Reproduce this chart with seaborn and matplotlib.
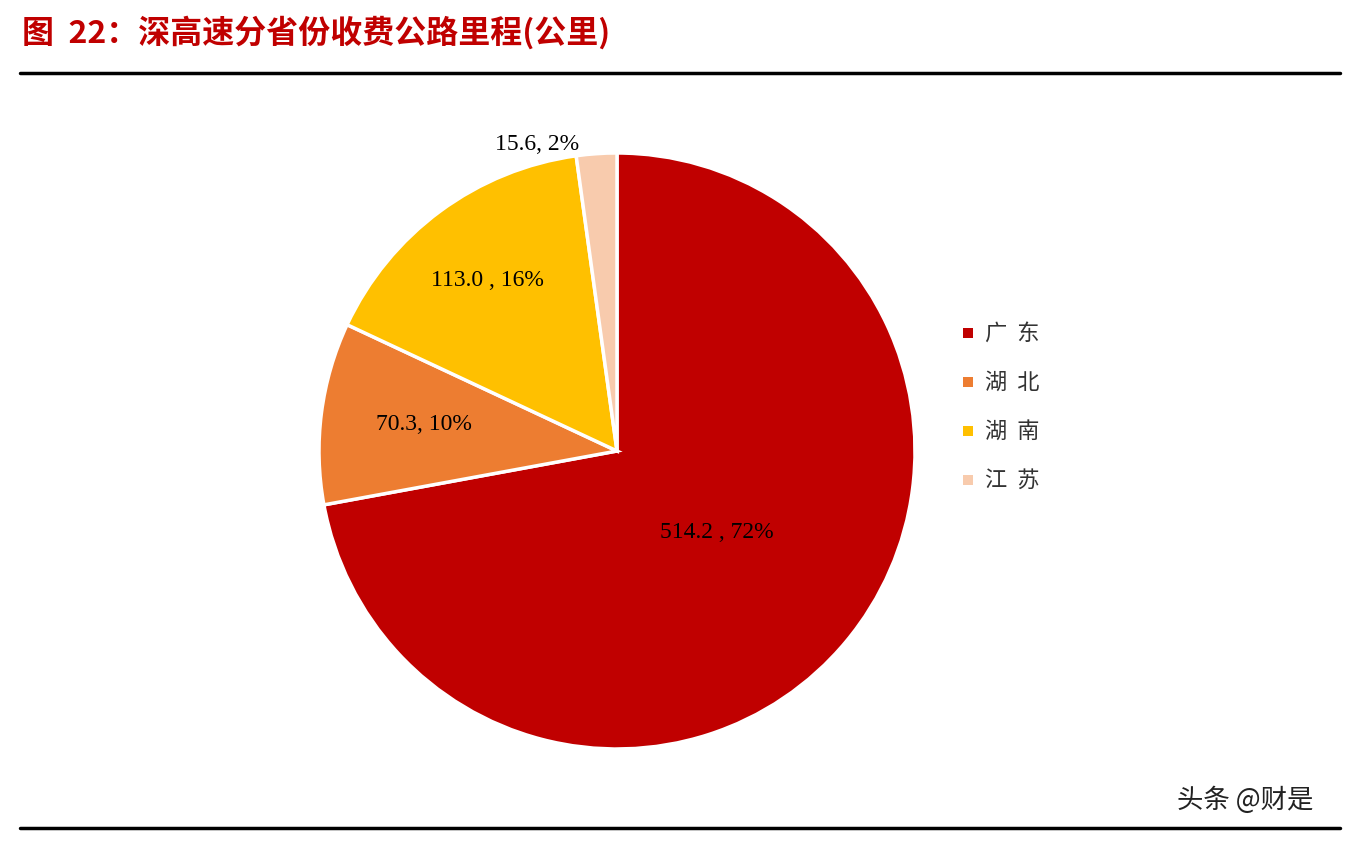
import matplotlib
matplotlib.use("Agg")
import matplotlib.pyplot as plt
import seaborn as sns
from matplotlib.lines import Line2D
from matplotlib.patches import Rectangle

sns.set_theme(style="white")
plt.rcParams['font.family'] = ['Noto Sans CJK SC', 'DejaVu Sans']

provinces = ["广东", "湖北", "湖南", "江苏"]
values = [514.2, 70.3, 113.0, 15.6]
labels = ["514.2 , 72%", "70.3, 10%", "113.0 , 16%", "15.6, 2%"]
colors = ["#C00000", "#ED7D31", "#FFC000", "#F8CBAD"]
label_pos = [(717, 533), (424, 425), (487, 280), (537, 145)]

W, H = 1356, 842
fig = plt.figure(figsize=(W/100, H/100), dpi=100)
fig.patch.set_facecolor("white")

r = 298
cx, cy = 617, 451
ax = fig.add_axes([(cx - r)/W, 1 - (cy + r)/H, 2*r/W, 2*r/H])
ax.pie(values, colors=colors, startangle=90, counterclock=False,
       wedgeprops=dict(edgecolor="white", linewidth=2.5))
ax.set_aspect("auto")
ax.set_xlim(-1, 1); ax.set_ylim(-1, 1)
ax.axis("off")

for (x, y), t in zip(label_pos, labels):
    fig.text(x/W, 1 - y/H, t, ha="center", va="center", fontsize=17,
             family=["Liberation Serif"], color="black")

# legend
for i, (p, c) in enumerate(zip(provinces, colors)):
    y = 333 + i*49
    fig.patches.append(Rectangle(((963)/W, 1 - (y + 5)/H), 10/W, 10/H,
                                 transform=fig.transFigure, facecolor=c, edgecolor="none"))
    fig.text(985/W, 1 - y/H, "  ".join(p), ha="left", va="center", fontsize=16, color="#333333")

fig.text(22/W, 1 - 33/H, "图  22：深高速分省份收费公路里程(公里)", ha="left", va="center",
         fontsize=23, fontweight="bold", color="#C00000")
fig.add_artist(Line2D([20/W, 1340/W], [1 - 73/H]*2, color="black", linewidth=2.5))
fig.add_artist(Line2D([20/W, 1340/W], [1 - 828/H]*2, color="black", linewidth=2.5))
fig.text(1245/W, 1 - 800/H, "头条 @财是", ha="center", va="center", fontsize=19, color="#222222")

fig.savefig("out.png", dpi=100)
